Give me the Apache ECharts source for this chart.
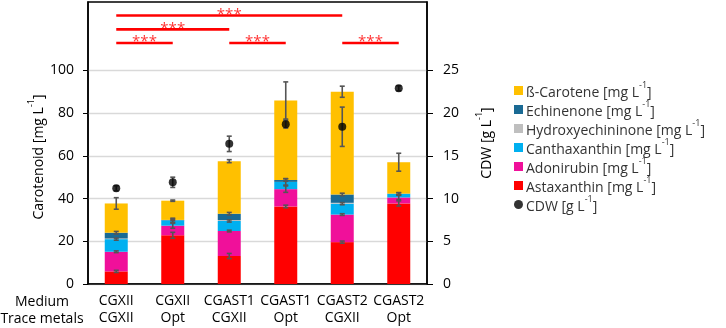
<!DOCTYPE html>
<html><head><meta charset="utf-8">
<script src="https://cdn.jsdelivr.net/npm/echarts@6/dist/echarts.min.js"></script>
<style>html,body{margin:0;padding:0;background:#fff}#c{width:726px;height:328px}</style>
</head><body><div id="c"></div>
<script>
const categories = ['CGXII\nCGXII', 'CGXII\nOpt', 'CGAST1\nCGXII', 'CGAST1\nOpt', 'CGAST2\nCGXII', 'CGAST2\nOpt'];
const astaxanthin = [5.9, 22.8, 13.1, 36.3, 19.6, 37.7];
const adonirubin = [9.2, 4.5, 11.7, 8.1, 12.9, 2.8];
const canthaxanthin = [5.9, 2.5, 4.7, 3.4, 5.1, 1.7];
const hydroxyechininone = [0.3, 0, 0.4, 0, 0.4, 0];
const echinenone = [2.7, 0.2, 3.0, 0.9, 3.9, 0.1];
const betaCarotene = [13.7, 9.0, 24.6, 37.2, 48.1, 14.7];
const cdw = [11.2, 11.9, 16.4, 18.7, 18.4, 22.9];

const astaxanthinErr = [0.5, 1.4, 1.2, 0.6, 0.5, 1.2];
const adonirubinErr = [0.4, 1.2, 0.4, 1.5, 0.4, 1.0];
const canthaxanthinErr = [0.5, 1.0, 0.5, 1.5, 0.5, 0.5];
const echinenoneErr = [0.6, 0.3, 0.6, 0.6, 0.6, 0.5];
const betaCaroteneErr = [2.7, 0.3, 0.7, 8.7, 2.6, 4.2];
const cdwErr = [0.3, 0.6, 0.9, 0.45, 2.3, 0.3];

const leftTicks = [0, 20, 40, 60, 80, 100];
const rightTicks = [0, 5, 10, 15, 20, 25];
// significance brackets: [fromIndex, toIndex, level (mg/L)]
const brackets = [[0, 4, 125.7], [0, 2, 119.2], [0, 1, 112.8], [2, 3, 112.8], [4, 5, 112.8]];
const sigLabel = '***';

const FONT = 'Open Sans';
const colors = {
  'ß-Carotene': '#FFC000',
  'Echinenone': '#1A6A94',
  'Hydroxyechininone': '#BFBFBF',
  'Canthaxanthin': '#00B0F0',
  'Adonirubin': '#F0109A',
  'Astaxanthin': '#FF0000'
};
const stackOrder = [
  ['Astaxanthin', astaxanthin, astaxanthinErr],
  ['Adonirubin', adonirubin, adonirubinErr],
  ['Canthaxanthin', canthaxanthin, canthaxanthinErr],
  ['Hydroxyechininone', hydroxyechininone, null],
  ['Echinenone', echinenone, echinenoneErr],
  ['ß-Carotene', betaCarotene, betaCaroteneErr]
];

const series = [];
const cum = categories.map(() => 0);
const errData = [];
stackOrder.forEach(([name, vals, errs]) => {
  series.push({
    name, type: 'bar', stack: 'c', barWidth: 23, data: vals,
    itemStyle: { color: colors[name] }, xAxisIndex: 0, yAxisIndex: 0, z: 2
  });
  vals.forEach((v, i) => {
    cum[i] += v;
    if (errs) errData.push([i, cum[i], errs[i]]);
  });
});

function errRender(params, api) {
  const x = api.value(0), y = api.value(1), e = api.value(2);
  const t = api.coord([x, y + e]), b = api.coord([x, y - e]);
  const w = 2.5;
  const st = { stroke: '#555', lineWidth: 1.6 };
  return { type: 'group', children: [
    { type: 'line', shape: { x1: t[0], y1: t[1], x2: b[0], y2: b[1] }, style: st },
    { type: 'line', shape: { x1: t[0] - w, y1: t[1], x2: t[0] + w, y2: t[1] }, style: st },
    { type: 'line', shape: { x1: b[0] - w, y1: b[1], x2: b[0] + w, y2: b[1] }, style: st }
  ] };
}
series.push({ type: 'custom', name: 'errBars', renderItem: errRender, data: errData, xAxisIndex: 0, yAxisIndex: 0, z: 5, silent: true });
series.push({ type: 'custom', name: 'cdwErr', renderItem: errRender, data: cdw.map((v, i) => [i, v, cdwErr[i]]), xAxisIndex: 0, yAxisIndex: 1, z: 6, silent: true });
series.push({ name: 'CDW', type: 'scatter', data: cdw, xAxisIndex: 0, yAxisIndex: 1, symbol: 'circle', symbolSize: 8, itemStyle: { color: '#000' }, z: 7 });

brackets.forEach(([a, b, lvl]) => {
  series.push({ type: 'line', xAxisIndex: 1, yAxisIndex: 0, data: [[a, lvl], [b, lvl]], symbol: 'none',
    lineStyle: { color: '#FF0000', width: 2.6 }, silent: true, z: 8 });
  series.push({ type: 'scatter', xAxisIndex: 1, yAxisIndex: 0, data: [[(a + b) / 2, lvl]], symbolSize: 1,
    itemStyle: { color: 'rgba(0,0,0,0)' }, silent: true, z: 9,
    label: { show: true, position: 'inside', formatter: sigLabel, color: '#FF0000', fontSize: 15, fontFamily: FONT, offset: [0, -1] } });
});

const rich = {
  a: { fontSize: 14, fontFamily: FONT, color: '#333', lineHeight: 19, verticalAlign: 'bottom' },
  sup: { fontSize: 9, fontFamily: FONT, color: '#333', verticalAlign: 'top', lineHeight: 10 }
};
const axisRich = {
  a: { fontSize: 14, fontFamily: FONT, color: '#000', lineHeight: 19, verticalAlign: 'bottom' },
  sup: { fontSize: 9, fontFamily: FONT, color: '#000', verticalAlign: 'top', lineHeight: 10 }
};
const legendNames = ['ß-Carotene', 'Echinenone', 'Hydroxyechininone', 'Canthaxanthin', 'Adonirubin', 'Astaxanthin', 'CDW'];

const chart = echarts.init(document.getElementById('c'), null, { renderer: 'canvas' });
chart.setOption({
  animation: false,
  textStyle: { fontFamily: FONT },
  grid: { left: 88, right: 299, top: 2, bottom: 44, show: true, borderColor: '#000', borderWidth: 1.5, containLabel: false },
  legend: {
    orient: 'vertical', left: 509, top: 76, itemWidth: 9, itemHeight: 9, itemGap: 0,
    data: legendNames.map(n => n === 'CDW' ? { name: n, icon: 'circle' } : { name: n, icon: 'rect' }),
    formatter: n => n === 'CDW' ? '{a|CDW [g L}{sup|-1}{a|]}' : '{a|' + n + ' [mg L}{sup|-1}{a|]}',
    textStyle: { rich, padding: [0, 0, 0, -2] },
    itemStyle: { borderWidth: 0 }
  },
  xAxis: [
    { type: 'category', data: categories, gridIndex: 0,
      axisLine: { lineStyle: { color: '#000', width: 1.5 } }, axisTick: { show: false },
      axisLabel: { color: '#000', fontSize: 14, fontFamily: FONT, lineHeight: 17, margin: 9, interval: 0 } },
    { type: 'value', min: -0.5, max: 5.5, show: false, gridIndex: 0 }
  ],
  yAxis: [
    { type: 'value', min: 0, max: 132, position: 'left',
      axisLine: { show: true, onZero: false, lineStyle: { color: '#000', width: 1.5 } },
      axisTick: { show: true, length: 5, lineStyle: { color: '#000' }, customValues: leftTicks },
      axisLabel: { color: '#000', fontSize: 14, fontFamily: FONT, margin: 14, customValues: leftTicks },
      splitLine: { show: true, lineStyle: { color: '#D9D9D9', width: 1.3 } },
      name: '{a|Carotenoid [mg L}{sup|-1}{a|]}', nameLocation: 'middle', nameRotate: 90, nameGap: 42,
      nameTextStyle: { rich: axisRich, padding: [0, 28, 0, 0] } },
    { type: 'value', min: 0, max: 33, position: 'right',
      axisLine: { show: true, onZero: false, lineStyle: { color: '#000', width: 1.5 } },
      axisTick: { show: true, length: 6, lineStyle: { color: '#000' }, customValues: rightTicks },
      axisLabel: { color: '#000', fontSize: 14, fontFamily: FONT, margin: 16, customValues: rightTicks },
      splitLine: { show: false },
      name: '{a|CDW [g L}{sup|-1}{a|]}', nameLocation: 'middle', nameRotate: 90, nameGap: 48,
      nameTextStyle: { rich: axisRich, padding: [0, 0, 0, 0] } }
  ],
  graphic: [
    { type: 'text', x: 42, y: 294, style: { text: 'Medium\nTrace metals', textAlign: 'center', fill: '#000', fontSize: 14, fontFamily: FONT, lineHeight: 17 } }
  ],
  series
});
</script></body></html>
